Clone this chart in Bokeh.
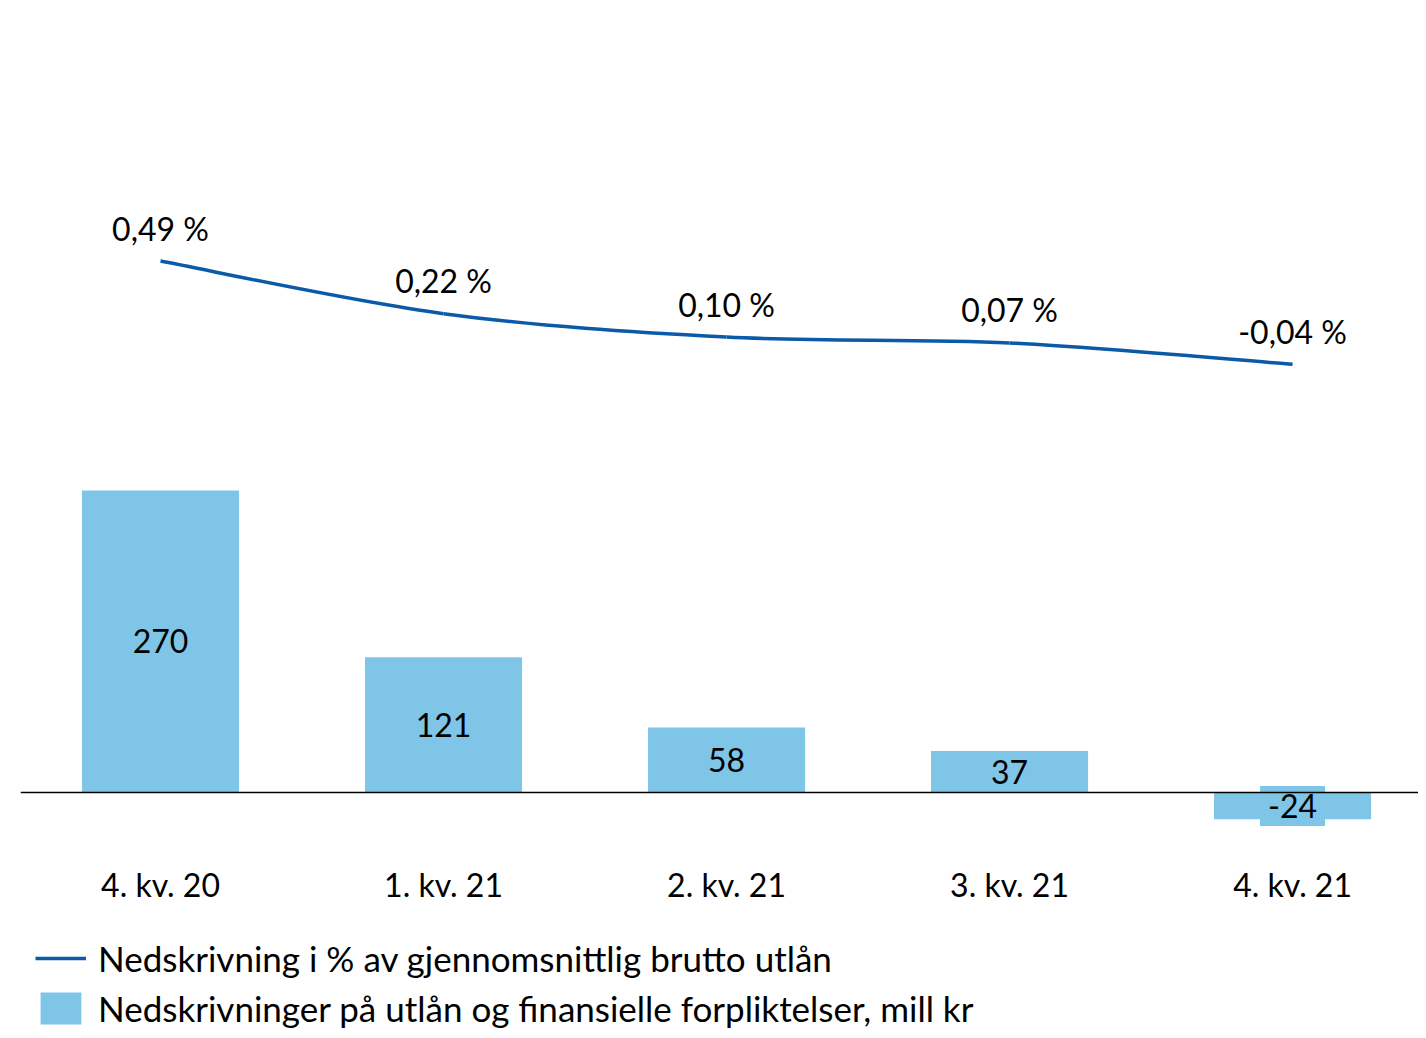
from bokeh.plotting import figure
from bokeh.models import Range1d, Span, Legend, LegendItem, ColumnDataSource
from bokeh.core.properties import value
from bokeh.embed import file_html
from bokeh.resources import INLINE

# ---- data ----
categories = ["4. kv. 20", "1. kv. 21", "2. kv. 21", "3. kv. 21", "4. kv. 21"]
writedowns = [270, 121, 58, 37, -24]            # mill kr
writedown_pct = [0.49, 0.22, 0.10, 0.07, -0.04]  # % of avg gross lending

BAR_COLOR = "#7FC5E8"
LINE_COLOR = "#0A5AA8"
FONT = "Lato"

xs = list(range(len(categories)))
n = len(xs)

bar_src = ColumnDataSource(dict(
    x=xs, top=writedowns,
    base=[0] * n,
    mid=[v / 2 for v in writedowns],
    label=[str(v) for v in writedowns],
    cat=categories,
))

pct_src = ColumnDataSource(dict(
    x=xs, y=writedown_pct,
    label=[f"{v:.2f}".replace(".", ",") + " %" for v in writedown_pct],
))

# smoothed line (Catmull-Rom -> cubic Bezier) built from the data points
seg = dict(x0=[], y0=[], x1=[], y1=[], cx0=[], cy0=[], cx1=[], cy1=[])
for i in range(n - 1):
    ip = i - 1 if i > 0 else i
    inn = i + 2 if i + 2 < n else i + 1
    seg["x0"].append(xs[i]); seg["y0"].append(writedown_pct[i])
    seg["x1"].append(xs[i + 1]); seg["y1"].append(writedown_pct[i + 1])
    seg["cx0"].append(xs[i] + (xs[i + 1] - xs[ip]) / 6)
    seg["cy0"].append(writedown_pct[i] + (writedown_pct[i + 1] - writedown_pct[ip]) / 6)
    seg["cx1"].append(xs[i + 1] - (xs[inn] - xs[i]) / 6)
    seg["cy1"].append(writedown_pct[i + 1] - (writedown_pct[inn] - writedown_pct[i]) / 6)
seg_src = ColumnDataSource(seg)

p = figure(width=1418, height=1030, output_backend="svg", toolbar_location=None,
           x_range=Range1d(-0.4947, 4.445), y_range=Range1d(-212.8, 708.1),
           x_axis_location=None, y_axis_location=None,
           min_border_left=20, min_border_right=0, min_border_top=0,
           min_border_bottom=0)
p.extra_y_ranges = {"pct": Range1d(-3.458, 1.827)}
p.outline_line_color = None
p.grid.visible = False
p.background_fill_color = "white"
p.border_fill_color = "white"

bars = p.vbar(x="x", top="top", bottom=0, width=0.555, source=bar_src,
              fill_color=BAR_COLOR, line_color=None)

p.add_layout(Span(location=0, dimension="width", line_color="black",
                  line_width=1.5))

# value labels inside the bars
p.text(x="x", y="mid", text="label", source=bar_src,
       text_align="center", text_baseline="middle",
       text_font=value(FONT), text_font_size="32px", text_color="black",
       background_fill_color=BAR_COLOR, padding=8)

# category labels under the baseline
p.text(x="x", y="base", text="cat", source=bar_src, y_offset=92,
       text_align="center", text_baseline="middle",
       text_font=value(FONT), text_font_size="32px", text_color="black")

curve = p.bezier(x0="x0", y0="y0", x1="x1", y1="y1", cx0="cx0", cy0="cy0",
                 cx1="cx1", cy1="cy1", source=seg_src, y_range_name="pct",
                 line_color=LINE_COLOR, line_width=3.5)

p.text(x="x", y="y", text="label", source=pct_src, y_range_name="pct",
       y_offset=-33, text_align="center", text_baseline="middle",
       text_font=value(FONT), text_font_size="32px", text_color="black")

legend = Legend(items=[
    LegendItem(label="Nedskrivning i % av gjennomsnittlig brutto utlån", renderers=[curve]),
    LegendItem(label="Nedskrivninger på utlån og finansielle forpliktelser, mill kr", renderers=[bars]),
], location=(15, 1), padding=0, margin=0, spacing=8,
   glyph_width=51, glyph_height=40, label_height=42, label_standoff=12,
   label_text_font=FONT, label_text_font_size="35px", label_text_color="black",
   border_line_color=None, background_fill_alpha=0)
p.add_layout(legend)

open("out.html", "w").write(file_html(p, INLINE))
